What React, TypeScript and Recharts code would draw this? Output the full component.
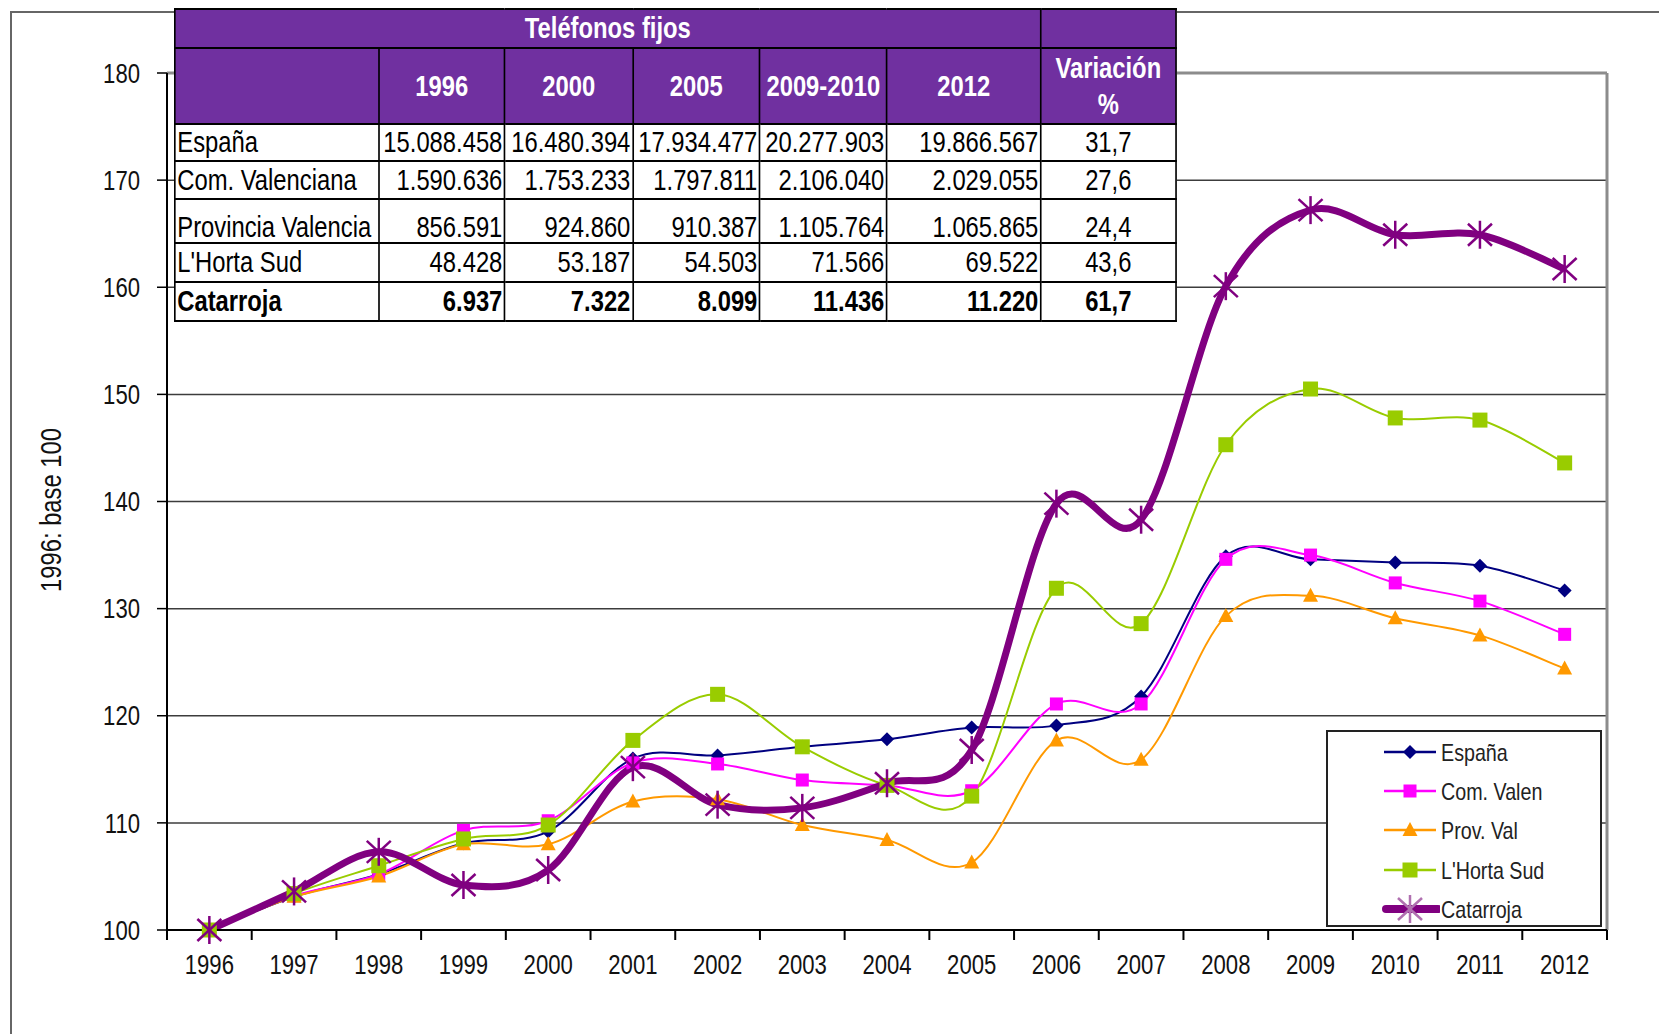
import React from "react";
import {
  CartesianGrid,
  Legend,
  Line,
  LineChart,
  XAxis,
  YAxis,
} from "recharts";

// índice 1996 = 100
const years = ["1996", "1997", "1998", "1999", "2000", "2001", "2002", "2003", "2004", "2005", "2006", "2007", "2008", "2009", "2010", "2011", "2012"];
const espana = [100, 103.1, 105.2, 108.1, 109.2, 116.0, 116.3, 117.1, 117.8, 118.9, 119.1, 121.8, 134.9, 134.6, 134.3, 134.0, 131.7];
const comValen = [100, 103.2, 105.2, 109.3, 110.2, 115.6, 115.5, 114.0, 113.5, 113.0, 121.1, 121.1, 134.6, 135.0, 132.4, 130.7, 127.6];
const provVal = [100, 103.1, 105.0, 108.0, 108.0, 112.0, 112.2, 109.8, 108.4, 106.3, 117.7, 115.9, 129.3, 131.2, 129.1, 127.5, 124.4];
const hortaSud = [100, 103.4, 106.0, 108.5, 109.8, 117.7, 122.0, 117.1, 113.5, 112.5, 131.9, 128.6, 145.3, 150.5, 147.8, 147.6, 143.6];
const catarroja = [100, 103.6, 107.3, 104.2, 105.6, 115.2, 111.7, 111.4, 113.7, 116.8, 139.8, 138.3, 160.1, 167.2, 164.9, 164.9, 161.7];
const yTicks = [100, 110, 120, 130, 140, 150, 160, 170, 180];

const tableTitle = "Teléfonos fijos";
const tableYears = ["1996", "2000", "2005", "2009-2010", "2012"];
const tableLabels = ["España", "Com. Valenciana", "Provincia Valencia", "L'Horta Sud", "Catarroja"];
const tableValues = [
  ["15.088.458", "16.480.394", "17.934.477", "20.277.903", "19.866.567"],
  ["1.590.636", "1.753.233", "1.797.811", "2.106.040", "2.029.055"],
  ["856.591", "924.860", "910.387", "1.105.764", "1.065.865"],
  ["48.428", "53.187", "54.503", "71.566", "69.522"],
  ["6.937", "7.322", "8.099", "11.436", "11.220"],
];
const tableVariation = ["31,7", "27,6", "24,4", "43,6", "61,7"];

const series = [
  { key: "espana", name: "España", values: espana, color: "#000080", width: 2, marker: "diamond" },
  { key: "comValen", name: "Com. Valen", values: comValen, color: "#FF00FF", width: 2, marker: "square" },
  { key: "provVal", name: "Prov. Val", values: provVal, color: "#FF9900", width: 2, marker: "triangle" },
  { key: "hortaSud", name: "L'Horta Sud", values: hortaSud, color: "#99CC00", width: 2, marker: "bigsquare" },
  { key: "catarroja", name: "Catarroja", values: catarroja, color: "#800080", width: 7, marker: "star" },
];

const data = years.map((year, i) => {
  const row: any = { year };
  series.forEach(s => { row[s.key] = s.values[i]; });
  return row;
});

const W = 1659;
const H = 1034;
const PLOT_LEFT = 167;
const PLOT_RIGHT = 1607;
const PLOT_TOP = 73;
const PLOT_BOTTOM = 930;
const BAND = (PLOT_RIGHT - PLOT_LEFT) / years.length;
// no Arial Narrow here: squeeze Liberation Sans horizontally
const FONT = "'Liberation Sans', Arial, sans-serif";
const NARROW = 0.82;
const PURPLE = "#7030A0";

// suavizado tipo Excel (Catmull-Rom)
const smoothCurve: any = (context: any) => {
  let pts: number[][] = [];
  return {
    areaStart() {},
    areaEnd() {},
    lineStart() { pts = []; },
    point(x: number, y: number) { pts.push([+x, +y]); },
    lineEnd() {
      const n = pts.length;
      if (!n) return;
      context.moveTo(pts[0][0], pts[0][1]);
      for (let i = 0; i < n - 1; i++) {
        const p0 = pts[Math.max(i - 1, 0)];
        const p1 = pts[i];
        const p2 = pts[i + 1];
        const p3 = pts[Math.min(i + 2, n - 1)];
        context.bezierCurveTo(
          p1[0] + (p2[0] - p0[0]) / 6, p1[1] + (p2[1] - p0[1]) / 6,
          p2[0] - (p3[0] - p1[0]) / 6, p2[1] - (p3[1] - p1[1]) / 6,
          p2[0], p2[1]
        );
      }
    },
  };
};

const Marker = ({ type, color, cx, cy }: { type: string; color: string; cx: number; cy: number }) => {
  switch (type) {
    case "diamond":
      return <path d={`M${cx},${cy - 7} L${cx + 7},${cy} L${cx},${cy + 7} L${cx - 7},${cy} Z`} fill={color} />;
    case "square":
      return <rect x={cx - 6.5} y={cy - 6.5} width={13} height={13} fill={color} />;
    case "bigsquare":
      return <rect x={cx - 7.5} y={cy - 7.5} width={15} height={15} fill={color} />;
    case "triangle":
      return <path d={`M${cx},${cy - 8} L${cx + 7.5},${cy + 6} L${cx - 7.5},${cy + 6} Z`} fill={color} />;
    case "star":
      return (
        <g stroke={color} strokeWidth={2.5}>
          <line x1={cx} y1={cy - 14} x2={cx} y2={cy + 14} />
          <line x1={cx - 12} y1={cy - 11} x2={cx + 12} y2={cy + 11} />
          <line x1={cx - 12} y1={cy + 11} x2={cx + 12} y2={cy - 11} />
        </g>
      );
    default:
      return null;
  }
};

const XTick = (props: any) => {
  const { x, y, payload, index } = props;
  const left = x - BAND / 2;
  return (
    <g>
      <line x1={left} y1={y} x2={left} y2={y + 10} stroke="#000" strokeWidth={2} />
      {index === years.length - 1 && (
        <line x1={x + BAND / 2} y1={y} x2={x + BAND / 2} y2={y + 10} stroke="#000" strokeWidth={2} />
      )}
      <text
        transform={`translate(${x},${y + 44}) scale(${NARROW},1)`}
        textAnchor="middle"
        fontFamily={FONT}
        fontSize={27}
        fill="#111"
      >
        {payload.value}
      </text>
    </g>
  );
};

const YTick = (props: any) => {
  const { x, y, payload } = props;
  return (
    <text
      transform={`translate(${x},${y}) scale(${NARROW},1)`}
      dy="0.36em"
      textAnchor="end"
      fontFamily={FONT}
      fontSize={27}
      fill="#111"
    >
      {payload.value}
    </text>
  );
};

const LegendBox = () => (
  <div
    style={{
      width: 272,
      height: 193,
      border: "2px solid #222",
      background: "#fff",
      boxSizing: "content-box",
      position: "relative",
    }}
  >
    {series.map((s, i) => (
      <div key={s.key} style={{ position: "absolute", left: 0, top: 1 + i * 39.2, height: 39, width: 272 }}>
        <svg width={112} height={39} style={{ position: "absolute", left: 0, top: 0 }}>
          <line
            x1={s.key === "catarroja" ? 58 : 56}
            y1={19}
            x2={s.key === "catarroja" ? 110 : 108}
            y2={19}
            stroke={s.color}
            strokeWidth={s.width === 7 ? 8 : 2.5}
            strokeLinecap={s.key === "catarroja" ? "round" : "butt"}
          />
          <Marker type={s.marker} color={s.key === "catarroja" ? "#B070B0" : s.color} cx={82} cy={19} />
        </svg>
        <span
          style={{
            position: "absolute",
            left: 113,
            top: 0,
            lineHeight: "39px",
            fontFamily: FONT,
            fontSize: 24,
            color: "#222",
            whiteSpace: "nowrap",
            transform: `scaleX(${NARROW})`,
            transformOrigin: "left center",
          }}
        >
          {s.name}
        </span>
      </div>
    ))}
  </div>
);

const cellBorder = "2.5px solid #000";
const thStyle: React.CSSProperties = {
  background: PURPLE,
  color: "#fff",
  fontWeight: "bold",
  border: cellBorder,
  textAlign: "center",
  padding: 0,
};
const tdStyle: React.CSSProperties = {
  border: cellBorder,
  padding: "0 2px",
  textAlign: "right",
  color: "#000",
  whiteSpace: "nowrap",
  overflow: "hidden",
};

// column widths as seen, the whole table is squeezed by NARROW
const colWidths = [204, 126, 128, 127, 127, 154, 135];
const rowHeights = [37, 38, 44, 39, 39];

const DataTable = () => (
  <div
    style={{
      position: "absolute",
      left: 174,
      top: 8,
      transform: `scaleX(${NARROW})`,
      transformOrigin: "left top",
    }}
  >
    <table
      style={{
        width: 1001 / NARROW,
        height: 314,
        borderCollapse: "collapse",
        tableLayout: "fixed",
        background: "#fff",
        fontFamily: FONT,
        fontSize: 29,
        lineHeight: 1,
      }}
    >
      <colgroup>
        {colWidths.map((w, i) => (
          <col key={i} style={{ width: w / NARROW }} />
        ))}
      </colgroup>
      <tbody>
        <tr style={{ height: 39 }}>
          <th colSpan={6} style={thStyle}>{tableTitle}</th>
          <th style={thStyle}></th>
        </tr>
        <tr style={{ height: 76 }}>
          <th style={thStyle}></th>
          {tableYears.map(y => (
            <th key={y} style={{ ...thStyle, whiteSpace: "nowrap" }}>{y}</th>
          ))}
          <th style={{ ...thStyle, lineHeight: "36px" }}>Variación<br />%</th>
        </tr>
        {tableLabels.map((label, r) => {
          const bold = r === tableLabels.length - 1;
          const va = r === 2 ? "bottom" : "middle";
          return (
            <tr key={label} style={{ height: rowHeights[r], fontWeight: bold ? "bold" : "normal" }}>
              <td style={{ ...tdStyle, textAlign: "left", verticalAlign: va }}>{label}</td>
              {tableValues[r].map((v, c) => (
                <td key={c} style={{ ...tdStyle, verticalAlign: va }}>{v}</td>
              ))}
              <td style={{ ...tdStyle, textAlign: "center", verticalAlign: va }}>{tableVariation[r]}</td>
            </tr>
          );
        })}
      </tbody>
    </table>
  </div>
);

const YLabel = () => (
  <text
    transform={`translate(51,510) rotate(-90) scale(${NARROW},1)`}
    textAnchor="middle"
    dy="0.36em"
    fontFamily={FONT}
    fontSize={29}
    fill="#111"
  >
    1996: base 100
  </text>
);

export default function App() {
  return (
    <div style={{ position: "absolute", left: 0, top: 0, width: W, height: H, background: "#fff", overflow: "hidden" }}>
      <div
        style={{
          position: "absolute",
          left: 10,
          top: 11,
          width: W,
          height: H,
          borderTop: "2px solid #666",
          borderLeft: "2px solid #666",
        }}
      />
      <LineChart
        width={W}
        height={H}
        data={data}
        margin={{ top: PLOT_TOP, right: W - PLOT_RIGHT, bottom: H - PLOT_BOTTOM - 30, left: PLOT_LEFT - 60 }}
        style={{ position: "absolute", left: 0, top: 0 }}
      >
        <CartesianGrid vertical={false} stroke="#3c3c3c" strokeWidth={1.5} />
        <CartesianGrid horizontalPoints={[PLOT_TOP]} verticalPoints={[PLOT_RIGHT]} stroke="#8c8c8c" strokeWidth={3} />
        <XAxis
          dataKey="year"
          interval={0}
          padding={{ left: BAND / 2, right: BAND / 2 }}
          tickLine={false}
          tickSize={0}
          tickMargin={0}
          height={30}
          axisLine={{ stroke: "#000", strokeWidth: 2 }}
          tick={<XTick />}
        />
        <YAxis
          width={60}
          domain={[100, 180]}
          ticks={yTicks}
          interval={0}
          tickSize={10}
          tickMargin={17}
          axisLine={{ stroke: "#000", strokeWidth: 2 }}
          tickLine={{ stroke: "#000", strokeWidth: 1.5 }}
          tick={<YTick />}
          label={{ content: () => <YLabel /> }}
        />
        {series.map(s => (
          <Line
            key={s.key}
            dataKey={s.key}
            name={s.name}
            type={smoothCurve}
            stroke={s.color}
            strokeWidth={s.width}
            isAnimationActive={false}
            dot={(p: any) => <Marker key={`${s.key}-${p.index}`} type={s.marker} color={s.color} cx={p.cx} cy={p.cy} />}
            activeDot={false}
          />
        ))}
        <Legend
          layout="vertical"
          align="center"
          verticalAlign="middle"
          wrapperStyle={{ left: 1326, top: 730, width: 276, height: 197 }}
          content={() => <LegendBox />}
        />
      </LineChart>
      <DataTable />
    </div>
  );
}
